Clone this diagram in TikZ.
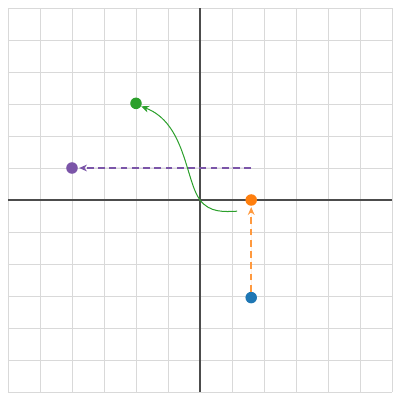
\documentclass[tikz,border=0pt]{standalone}
\usetikzlibrary{arrows.meta}

\definecolor{tblue}{HTML}{1F77B4}
\definecolor{torange}{HTML}{FF7F0E}
\definecolor{tgreen}{HTML}{2CA02C}
\definecolor{tpurple}{HTML}{7B55A8}

\tikzstyle{pt} = [circle, inner sep=0, minimum size=0.36cm]
\tikzstyle{gridline} = [draw=black!15, line width=0.8pt]
\tikzstyle{axis} = [draw=black!70, line width=1.1pt]
\tikzstyle{move} = [line width=1.1pt, dash pattern=on 6pt off 4pt, -{Stealth[length=7pt,width=6pt]}, shorten >=1pt]
\tikzstyle{turn} = [line width=0.9pt, draw=tgreen, -{Stealth[length=7pt,width=6pt]}]

\begin{document}
\begin{tikzpicture}[scale=1]
	\useasboundingbox (-6.25,-6.25) rectangle (6.25,6.25);

%Grid
	\draw[gridline] (-6,-6) grid (6,6);
	\draw[axis] (-6,0) -- (6,0);
	\draw[axis] (0,-6) -- (0,6);

%Nodes
	\node[pt, fill=torange] (orange) at (1.6,0) {};
	\node[pt, fill=tblue] (blue) at (1.6,-3.05) {};
	\node[pt, fill=tgreen] (green) at (-2,3.02) {};
	\node[pt, fill=tpurple] (purple) at (-4,1) {};
	\coordinate (pstart) at (1.6,1);
	\coordinate (gstart) at (1.16,-0.35);
	\coordinate (o) at (0,0);

%Connections
	\draw[move, draw=torange!80, fill=torange!80, line width=1.4pt] (blue) -- (orange);
	\draw[move, draw=tpurple, fill=tpurple] (pstart) -- (purple);
	\draw[turn] (gstart) .. controls (0.75,-0.37) and (0.3,-0.4) .. (o)
		.. controls (-0.45,0.6) and (-0.45,2.4) .. (green.-30);

\end{tikzpicture}
\end{document}
